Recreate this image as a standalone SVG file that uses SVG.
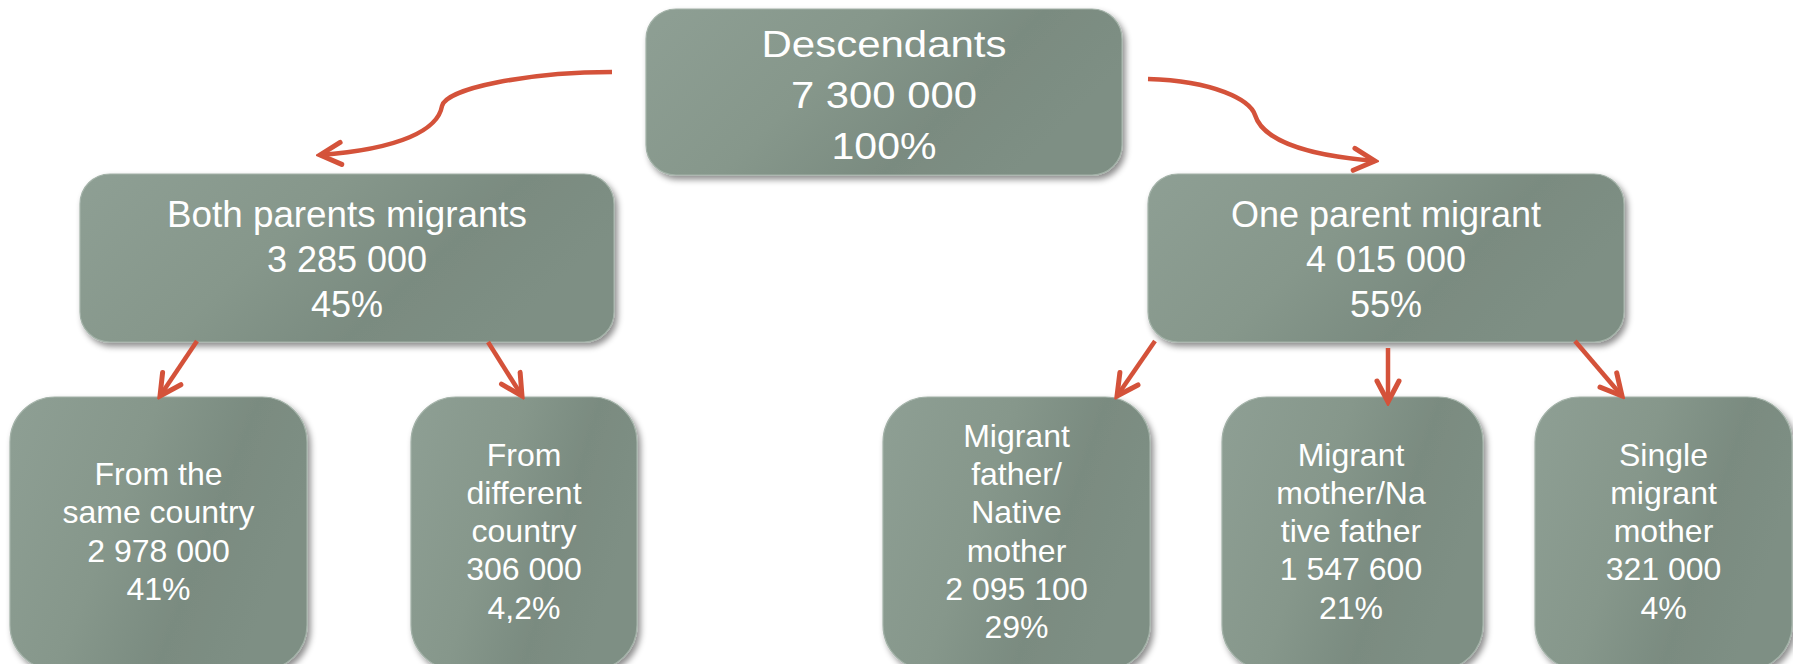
<svg xmlns="http://www.w3.org/2000/svg" width="1793" height="664" viewBox="0 0 1793 664">
<defs>
<linearGradient id="g" x1="0" y1="0" x2="1" y2="0.35">
<stop offset="0" stop-color="#8e9f94"/>
<stop offset="0.45" stop-color="#86978b"/>
<stop offset="0.75" stop-color="#7a8b80"/>
<stop offset="1" stop-color="#7e8f84"/>
</linearGradient>
<filter id="sh" x="-10%" y="-10%" width="125%" height="130%">
<feDropShadow dx="3" dy="4" stdDeviation="3" flood-color="#000" flood-opacity="0.45"/>
</filter>
<marker id="ah" markerUnits="userSpaceOnUse" viewBox="-26 -15 30 30" refX="0" refY="0" markerWidth="30" markerHeight="30" orient="auto">
<path d="M -21 -11 L 0 0 L -21 11" fill="none" stroke="#d4523a" stroke-width="5" stroke-linecap="round" stroke-linejoin="miter"/>
</marker>
</defs>
<style>
.box{fill:url(#g);stroke:#a3b2a8;stroke-width:1.2;filter:url(#sh);}
.t{font-family:"Liberation Sans",Arial,sans-serif;fill:#ffffff;text-anchor:middle;}
.t37{font-size:37px;}
.t36{font-size:36px;}
.t32{font-size:32px;}
.c{fill:none;stroke:#d4523a;stroke-width:4.5;stroke-linecap:butt;marker-end:url(#ah);}
</style>
<g id="node-descendants">
<rect class="box" x="646" y="9" width="476" height="166" rx="30"/>
<text class="t t37" x="884" y="57" textLength="245" lengthAdjust="spacingAndGlyphs">Descendants</text>
<text class="t t37" x="884" y="108" textLength="186" lengthAdjust="spacingAndGlyphs">7 300 000</text>
<text class="t t37" x="884" y="159" textLength="105" lengthAdjust="spacingAndGlyphs">100%</text>
</g>
<g id="node-both">
<rect class="box" x="80" y="174" width="534" height="168" rx="30"/>
<text class="t t36" x="347" y="227" textLength="360" lengthAdjust="spacingAndGlyphs">Both parents migrants</text>
<text class="t t36" x="347" y="272">3 285 000</text>
<text class="t t36" x="347" y="317">45%</text>
</g>
<g id="node-one">
<rect class="box" x="1148" y="174" width="476" height="168" rx="30"/>
<text class="t t36" x="1386" y="227">One parent migrant</text>
<text class="t t36" x="1386" y="272">4 015 000</text>
<text class="t t36" x="1386" y="317">55%</text>
</g>
<g id="node-same">
<rect class="box" x="10" y="397" width="297" height="273" rx="45"/>
<text class="t t32" x="158.5" y="485">From the</text>
<text class="t t32" x="158.5" y="523">same country</text>
<text class="t t32" x="158.5" y="562">2 978 000</text>
<text class="t t32" x="158.5" y="600">41%</text>
</g>
<g id="node-different">
<rect class="box" x="411" y="397" width="226" height="273" rx="45"/>
<text class="t t32" x="524" y="466">From</text>
<text class="t t32" x="524" y="504">different</text>
<text class="t t32" x="524" y="542">country</text>
<text class="t t32" x="524" y="580">306 000</text>
<text class="t t32" x="524" y="619">4,2%</text>
</g>
<g id="node-father">
<rect class="box" x="883" y="397" width="267" height="273" rx="45"/>
<text class="t t32" x="1016.5" y="447">Migrant</text>
<text class="t t32" x="1016.5" y="485">father/</text>
<text class="t t32" x="1016.5" y="523">Native</text>
<text class="t t32" x="1016.5" y="562">mother</text>
<text class="t t32" x="1016.5" y="600">2 095 100</text>
<text class="t t32" x="1016.5" y="638">29%</text>
</g>
<g id="node-mother">
<rect class="box" x="1222" y="397" width="261" height="273" rx="45"/>
<text class="t t32" x="1351" y="466">Migrant</text>
<text class="t t32" x="1351" y="504">mother/Na</text>
<text class="t t32" x="1351" y="542">tive father</text>
<text class="t t32" x="1351" y="580">1 547 600</text>
<text class="t t32" x="1351" y="619">21%</text>
</g>
<g id="node-single">
<rect class="box" x="1535" y="397" width="257" height="273" rx="45"/>
<text class="t t32" x="1663.5" y="466">Single</text>
<text class="t t32" x="1663.5" y="504">migrant</text>
<text class="t t32" x="1663.5" y="542">mother</text>
<text class="t t32" x="1663.5" y="580">321 000</text>
<text class="t t32" x="1663.5" y="619">4%</text>
</g>
<g id="connectors">
<path class="c" d="M612,72 C530,72 446,88 442,106 C438,130 400,149 320,155"/>
<path class="c" d="M1148,79 C1215,81 1250,100 1255,115 C1262,138 1300,155 1375,161"/>
<path class="c" d="M197,341 L160,396"/>
<path class="c" d="M488,342 L522,396"/>
<path class="c" d="M1155,341 L1117,396"/>
<path class="c" d="M1388,348 L1388,402"/>
<path class="c" d="M1575,341 L1622,396"/>
</g>
</svg>
